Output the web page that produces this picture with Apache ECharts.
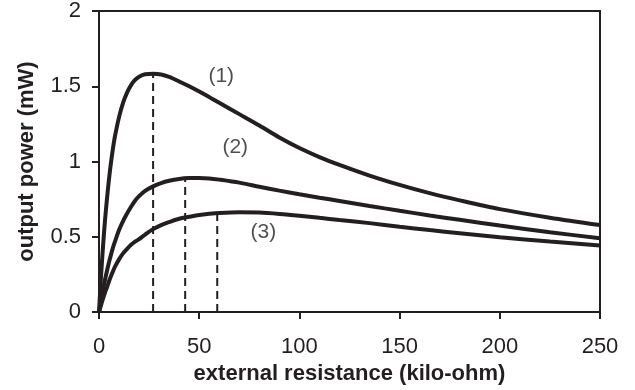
<!DOCTYPE html>
<html>
<head>
<meta charset="utf-8">
<script src="https://cdn.jsdelivr.net/npm/echarts@6/dist/echarts.min.js"></script>
<style>
html,body{margin:0;padding:0;background:#fff;}
#chart{width:635px;height:390px;}
</style>
</head>
<body>
<div id="chart"></div>
<script>
// external resistance (kilo-ohm)
var resistance = [0, 1, 2, 3, 4, 5, 6, 7, 8, 10, 12, 14, 16, 18, 20, 23, 27, 31, 35, 40, 45, 50, 55, 60, 70, 80, 90, 100, 110, 120, 135, 150, 165, 180, 200, 225, 250];
// output power (mW), curves (1), (2), (3)
var power1 = [0, 0.235, 0.435, 0.61, 0.755, 0.885, 0.995, 1.09, 1.17, 1.295, 1.39, 1.458, 1.508, 1.542, 1.564, 1.58, 1.583, 1.578, 1.562, 1.532, 1.50, 1.465, 1.428, 1.39, 1.315, 1.24, 1.16, 1.09, 1.03, 0.978, 0.907, 0.845, 0.79, 0.742, 0.684, 0.627, 0.578];
var power2 = [0, 0.08, 0.15, 0.215, 0.275, 0.332, 0.382, 0.43, 0.47, 0.545, 0.605, 0.655, 0.70, 0.74, 0.77, 0.805, 0.835, 0.857, 0.872, 0.884, 0.89, 0.891, 0.888, 0.88, 0.86, 0.833, 0.807, 0.783, 0.76, 0.738, 0.705, 0.673, 0.642, 0.613, 0.575, 0.531, 0.49];
var power3 = [0, 0.045, 0.09, 0.13, 0.165, 0.205, 0.24, 0.272, 0.302, 0.35, 0.39, 0.42, 0.447, 0.468, 0.485, 0.515, 0.551, 0.578, 0.598, 0.62, 0.633, 0.645, 0.653, 0.659, 0.664, 0.661, 0.652, 0.64, 0.626, 0.612, 0.591, 0.567, 0.545, 0.524, 0.497, 0.469, 0.443];
// dashed markers (resistance, height)
var peakR = [27, 43, 59];
var peakP = [1.583, 0.888, 0.65];
// curve labels
var curveLabels = ['(1)', '(2)', '(3)'];
var labelR = [61, 68, 82];
var labelP = [1.57, 1.095, 0.53];
// axis ticks
var xTicks = [0, 50, 100, 150, 200, 250];
var yTicks = [0, 0.5, 1, 1.5, 2];

var INK = '#231f20';
var FONT = 'Liberation Sans, Arial, sans-serif';

function pairs(xs, ys) { return xs.map(function (x, i) { return [x, ys[i]]; }); }

var series = [];
[power1, power2, power3].forEach(function (p) {
  series.push({
    type: 'line', data: pairs(resistance, p), smooth: 0.3, showSymbol: false, symbol: 'none',
    lineStyle: { color: INK, width: 4 }, z: 3, animation: false
  });
});
peakR.forEach(function (r, i) {
  series.push({
    type: 'line', data: [[r, 0], [r, peakP[i]]], showSymbol: false, symbol: 'none',
    lineStyle: { color: INK, width: 2, type: [8, 5] }, z: 2, animation: false
  });
});
series.push({
  type: 'scatter', symbolSize: 0, animation: false,
  data: curveLabels.map(function (t, i) { return { value: [labelR[i], labelP[i]], name: t }; }),
  label: { show: true, position: 'inside', formatter: '{b}', color: INK, fontSize: 21, fontFamily: FONT }
});

var chart = echarts.init(document.getElementById('chart'), null, { renderer: 'canvas' });
chart.setOption({
  backgroundColor: '#fff',
  animation: false,
  grid: { left: 99, right: 35, top: 11, bottom: 72, show: true, borderColor: INK, borderWidth: 2, backgroundColor: 'transparent' },
  xAxis: {
    type: 'value', min: 0, max: 250, interval: 50,
    name: 'external resistance (kilo-ohm)', nameLocation: 'middle', nameGap: 47,
    nameTextStyle: { color: INK, fontSize: 22, fontWeight: 'bold', fontFamily: FONT },
    axisLine: { show: true, lineStyle: { color: INK, width: 2 } },
    axisTick: { show: true, inside: false, length: 7, lineStyle: { color: INK, width: 2 } },
    axisLabel: { color: INK, fontSize: 22, fontFamily: FONT, margin: 24, formatter: function (v) { return xTicks.indexOf(v) >= 0 ? String(v) : ''; } },
    splitLine: { show: false }
  },
  yAxis: {
    type: 'value', min: 0, max: 2, interval: 0.5,
    name: 'output power (mW)', nameLocation: 'middle', nameGap: 61,
    nameTextStyle: { color: INK, fontSize: 22, fontWeight: 'bold', fontFamily: FONT },
    axisLine: { show: true, lineStyle: { color: INK, width: 2 } },
    axisTick: { show: true, inside: false, length: 7, lineStyle: { color: INK, width: 2 } },
    axisLabel: { color: INK, fontSize: 22, fontFamily: FONT, margin: 18, formatter: function (v) { return yTicks.indexOf(v) >= 0 ? String(v) : ''; } },
    splitLine: { show: false }
  },
  series: series
});
</script>
</body>
</html>
